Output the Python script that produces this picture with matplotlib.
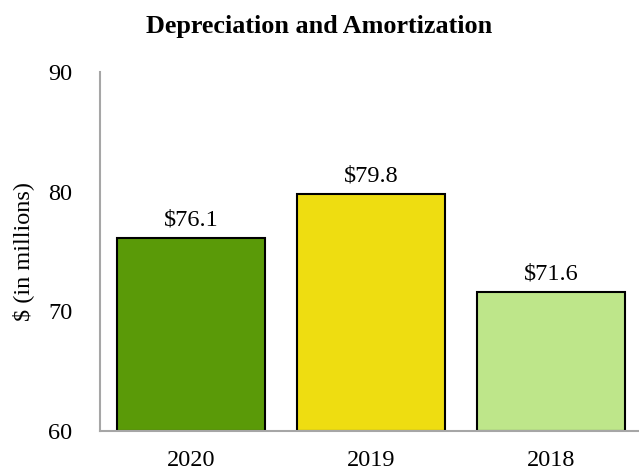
import matplotlib
matplotlib.use('Agg')
import matplotlib.pyplot as plt

# data
years = ['2020', '2019', '2018']
values = [76.1, 79.8, 71.6]
labels = ['$76.1', '$79.8', '$71.6']
colors = ['#5A9A08', '#EEDD11', '#BEE68A']

plt.rcParams['font.family'] = ['Liberation Serif', 'DejaVu Serif']

fig = plt.figure(figsize=(6.39, 4.69), dpi=100)
ax = fig.add_axes([0.1565, 0.081, 0.8435, 0.7655])

x = range(len(years))
ax.bar(x, [v - 60 for v in values], bottom=60, width=0.82,
       color=colors, edgecolor='black', linewidth=1.5)

for xi, v, lab in zip(x, values, labels):
    ax.annotate(lab, (xi, v), xytext=(0, 13), textcoords='offset pixels',
                ha='center', va='baseline', fontsize=17.5)

ax.set_ylim(60, 90)
ax.set_xlim(-0.506, 2.49)
ax.set_yticks([60, 70, 80, 90])
ax.set_xticks(list(x))
ax.set_xticklabels(years)
ax.tick_params(axis='both', length=0, labelsize=17.5)
ax.tick_params(axis='y', pad=20)
ax.tick_params(axis='x', pad=14)
ax.set_ylabel('$ (in millions)', fontsize=17.5)
ax.yaxis.set_label_coords(-0.122, 0.5)

for side in ['top', 'right']:
    ax.spines[side].set_visible(False)
for side in ['left', 'bottom']:
    ax.spines[side].set_color('#A6A6A6')
    ax.spines[side].set_linewidth(1.5)

fig.text(0.5, 1 - 27 / 469, 'Depreciation and Amortization',
         ha='center', va='center', fontsize=18.8, fontweight='bold')

fig.savefig('out.png', dpi=100)
